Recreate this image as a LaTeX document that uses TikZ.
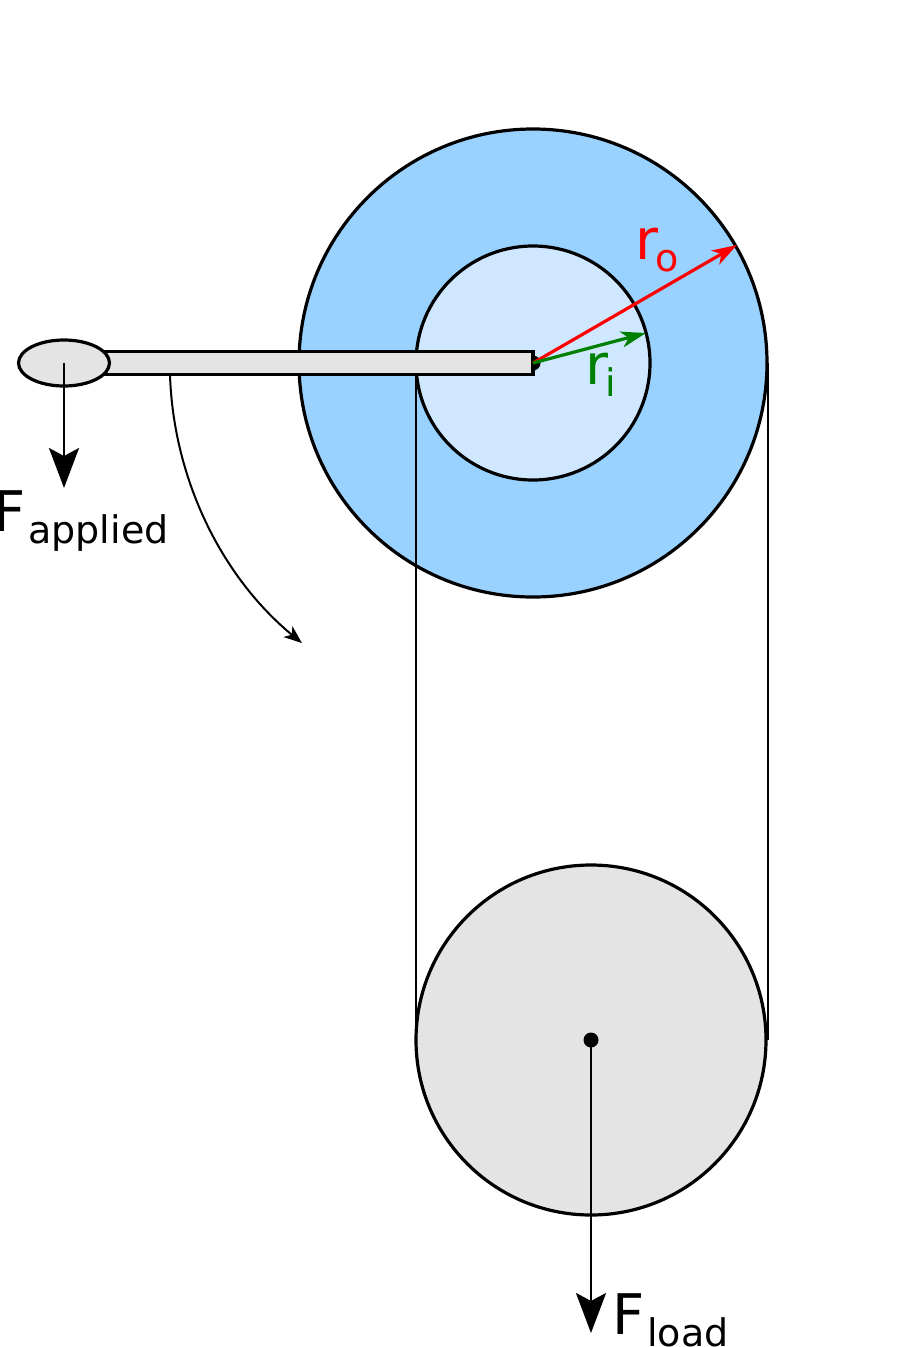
\documentclass[tikz,border=0pt]{standalone}
\usepackage{fontspec}
\setmainfont{DejaVu Sans}
\usetikzlibrary{arrows.meta}
\definecolor{wheelblue}{HTML}{99D1FF}
\definecolor{axleblue}{HTML}{CFE8FF}
\definecolor{partgray}{HTML}{E4E4E4}
\definecolor{rigreen}{HTML}{008000}
\newcommand{\sublabel}[3]{#2\kern#1pt\raisebox{-12pt}{\fontsize{38}{38}\selectfont #3}}
\tikzset{
  part/.style={draw=black, line width=3.2pt},
  rope/.style={draw=black, line width=2.5pt},
  force/.style={line width=2.8pt, -{Stealth[length=40pt, width=30pt, inset=8pt]}},
  radius arrow/.style={line width=3.2pt, -{Stealth[length=25pt, width=16pt, inset=7pt]}},
  biglabel/.style={inner sep=0pt, anchor=base west, font=\fontsize{56}{56}\selectfont},
}
\begin{document}
\begin{tikzpicture}[x=1pt, y=-1pt]
\useasboundingbox (0, 0) rectangle (897, 1347);

\coordinate (wheel) at (533, 363);
\coordinate (load) at (591, 1040);
\coordinate (handle) at (64, 363);

% wheel and axle
\draw [part, fill=wheelblue] (wheel) circle [radius=234];
\draw [part, fill=axleblue] (wheel) circle [radius=117];
\fill (wheel) circle [radius=7.5];

% ropes
\coordinate (ropeLtop) at (416, 375);
\coordinate (ropeLbot) at (416, 1040);
\coordinate (ropeRtop) at (768, 363);
\coordinate (ropeRbot) at (768, 1040);
\draw [rope] (ropeLtop) -- (ropeLbot);
\draw [rope] (ropeRtop) -- (ropeRbot);

% lever
\draw [part, fill=partgray] (100, 351.5) rectangle (533, 374.5);
\draw [part, fill=partgray] (handle) ellipse [x radius=45.5, y radius=23];

% load pulley
\draw [part, fill=partgray] (load) circle [radius=175];
\fill (load) circle [radius=7.5];

% turning direction
\coordinate (swingA) at (170, 375);
\draw [line width=2pt, -{Stealth[length=18pt, width=14pt, inset=5pt]}] (swingA) arc [start angle=178.1, end angle=129.5, radius=363];

% forces
\coordinate (applyEnd) at (64, 488);
\coordinate (loadEnd) at (591, 1333);
\draw [force] (handle) -- (applyEnd);
\draw [force] (load) -- (loadEnd);
\node [biglabel] (applied) at (-7, 531) {\sublabel{3}{F}{applied}};
\node [biglabel] (loadlabel) at (612, 1334) {\sublabel{3}{F}{load}};

% radii
\coordinate (outerEnd) at (737, 245);
\coordinate (innerEnd) at (646, 333);
\draw [radius arrow, color=red] (wheel) -- (outerEnd);
\draw [radius arrow, color=rigreen] (wheel) -- (innerEnd);
\node [biglabel, color=red] (ro) at (635, 259) {\sublabel{-3}{r}{o}};
\node [biglabel, color=rigreen] (ri) at (585, 384) {\sublabel{-3}{r}{i}};
\end{tikzpicture}
\end{document}
